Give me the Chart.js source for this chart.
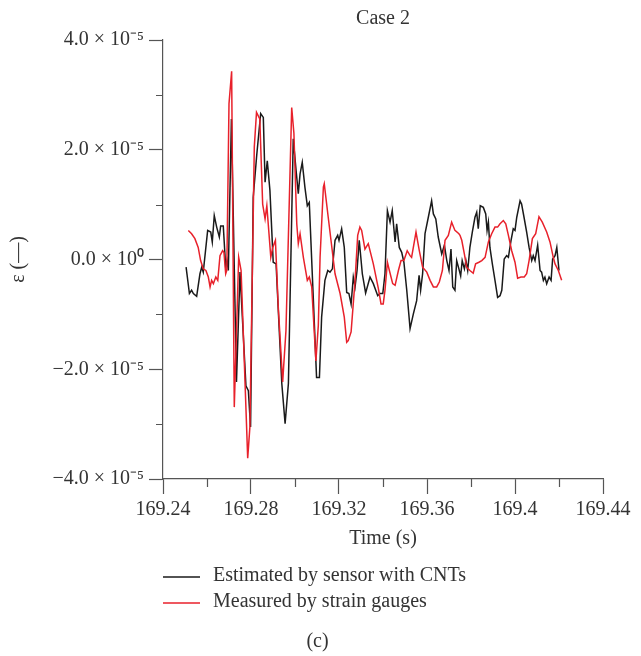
<!DOCTYPE html>
<html>
<head>
<meta charset="utf-8">
<script src="https://cdn.jsdelivr.net/npm/chart.js@4"></script>
<style>
  body { margin:0; background:#fff; }
  canvas { display:block; }
</style>
</head>
<body>
<canvas id="chart" width="641" height="656"></canvas>
<script>
// ----- data (strain in units of 1e-5) -----
const timeCnt = [
  169.2505,169.2520,169.2530,169.2538,169.2553,169.2568,169.2576,169.2583,169.2603,169.2617,
  169.2624,169.2633,169.2644,169.2656,169.2662,169.2674,169.2685,169.2691,169.2697,169.2711,
  169.2734,169.2750,169.2777,169.2788,169.2798,169.2810,169.2826,169.2844,169.2856,169.2864,
  169.2874,169.2886,169.2901,169.2914,169.2940,169.2955,169.2970,169.2992,169.3005,169.3015,
  169.3023,169.3033,169.3045,169.3056,169.3065,169.3083,169.3098,169.3111,169.3121,169.3136,
  169.3149,169.3159,169.3170,169.3182,169.3194,169.3200,169.3212,169.3224,169.3235,169.3245,
  169.3255,169.3265,169.3273,169.3282,169.3292,169.3306,169.3321,169.3341,169.3356,169.3376,
  169.3386,169.3399,169.3409,169.3420,169.3432,169.3442,169.3455,169.3462,169.3474,169.3485,
  169.3495,169.3508,169.3523,169.3538,169.3553,169.3564,169.3571,169.3580,169.3591,169.3606,
  169.3621,169.3629,169.3640,169.3651,169.3667,169.3679,169.3690,169.3700,169.3709,169.3717,
  169.3727,169.3735,169.3745,169.3753,169.3760,169.3770,169.3777,169.3785,169.3795,169.3806,
  169.3818,169.3826,169.3833,169.3842,169.3856,169.3867,169.3873,169.3879,169.3886,169.3897,
  169.3909,169.3921,169.3932,169.3940,169.3951,169.3962,169.3970,169.3982,169.3992,169.4000,
  169.4008,169.4023,169.4030,169.4041,169.4053,169.4064,169.4076,169.4083,169.4091,169.4103,
  169.4114,169.4121,169.4129,169.4136,169.4144,169.4155,169.4164,169.4171,169.4182,169.4190,
  169.4200
];
const strainCnt = [
  -0.14,-0.62,-0.56,-0.62,-0.67,-0.26,-0.14,-0.23,0.53,0.50,
  0.32,0.80,0.59,0.41,0.61,0.61,-0.14,-0.02,-0.20,2.56,
  -2.23,-0.23,-2.30,-2.39,-3.05,1.13,1.90,2.66,2.59,1.41,
  1.80,1.26,-0.05,-0.08,-2.26,-2.99,-2.26,2.20,1.62,1.20,
  1.56,1.77,1.32,0.98,1.04,-0.69,-2.15,-2.15,-1.05,-0.38,
  -0.20,-0.23,-0.17,0.35,0.44,0.35,0.56,0.22,-0.60,-0.62,
  -0.81,-0.32,-0.50,-0.20,0.35,-0.26,-0.61,-0.32,-0.44,-0.66,
  -0.62,-0.62,-0.26,0.89,0.68,0.89,0.32,0.65,0.22,0.13,
  -0.05,-0.56,-1.26,-0.99,-0.75,-0.29,-0.56,-0.26,0.47,0.77,
  1.07,0.83,0.74,0.41,0.10,0.26,-0.02,-0.20,0.19,-0.50,
  -0.56,-0.02,-0.17,-0.30,-0.02,-0.17,-0.02,-0.20,0.22,0.50,
  0.77,0.86,0.56,0.98,0.95,0.83,0.53,0.68,0.22,-0.08,
  -0.38,-0.69,-0.66,-0.56,0.01,0.07,0.04,0.35,0.56,0.53,
  0.77,1.07,1.01,0.77,0.50,0.22,-0.02,0.07,-0.02,0.26,
  -0.20,-0.23,-0.38,-0.32,-0.44,-0.32,-0.38,0.01,0.07,0.22,
  -0.20
];
const timeGauge = [
  169.2515,169.2530,169.2545,169.2560,169.2571,169.2583,169.2595,169.2606,169.2614,169.2621,
  169.2629,169.2640,169.2649,169.2659,169.2671,169.2677,169.2685,169.2690,169.2700,169.2712,
  169.2724,169.2744,169.2755,169.2785,169.2795,169.2815,169.2825,169.2840,169.2853,169.2864,
  169.2872,169.2890,169.2899,169.2911,169.2924,169.2944,169.2959,169.2985,169.2995,169.3008,
  169.3015,169.3023,169.3038,169.3056,169.3065,169.3076,169.3095,169.3106,169.3114,169.3129,
  169.3133,169.3151,169.3182,169.3205,169.3224,169.3235,169.3242,169.3255,169.3273,169.3285,
  169.3295,169.3303,169.3318,169.3333,169.3356,169.3379,169.3391,169.3401,169.3409,169.3420,
  169.3429,169.3444,169.3455,169.3470,169.3482,169.3495,169.3510,169.3523,169.3530,169.3550,
  169.3565,169.3580,169.3599,169.3614,169.3629,169.3644,169.3656,169.3670,169.3682,169.3697,
  169.3712,169.3727,169.3745,169.3750,169.3758,169.3770,169.3780,169.3795,169.3810,169.3821,
  169.3836,169.3849,169.3864,169.3879,169.3894,169.3909,169.3921,169.3932,169.3947,169.3958,
  169.3970,169.3985,169.4000,169.4012,169.4027,169.4042,169.4053,169.4064,169.4079,169.4094,
  169.4109,169.4124,169.4144,169.4159,169.4174,169.4182,169.4197,169.4212
];
const strainGauge = [
  0.53,0.47,0.38,0.22,-0.02,-0.17,-0.20,-0.32,-0.50,-0.38,
  -0.44,-0.32,-0.38,0.07,0.16,0.13,-0.26,-0.20,2.84,3.43,
  -2.69,0.04,-0.20,-3.62,-3.05,2.05,2.68,2.56,1.01,0.74,
  0.98,0.04,0.22,0.35,-0.87,-2.23,-1.29,2.77,2.30,0.65,
  0.29,0.47,0.04,-0.38,-0.32,-0.50,-1.85,-1.20,0.04,1.32,
  1.38,0.77,-0.26,-0.62,-1.05,-1.51,-1.48,-1.32,-0.38,0.44,
  0.59,0.53,0.19,0.29,-0.08,-0.53,-0.81,-0.81,-0.56,-0.05,
  -0.20,-0.44,-0.47,-0.20,-0.02,-0.02,0.16,0.07,0.04,0.50,
  0.16,-0.14,-0.23,-0.38,-0.50,-0.50,-0.41,-0.20,0.35,0.44,
  0.68,0.53,0.47,0.44,0.35,0.10,-0.14,-0.20,-0.25,-0.08,
  -0.05,-0.02,0.04,0.32,0.47,0.59,0.59,0.65,0.71,0.65,
  0.44,0.16,-0.05,-0.34,-0.32,-0.32,-0.26,-0.02,0.38,0.47,
  0.78,0.68,0.50,0.32,0.04,-0.08,-0.20,-0.38
];

const xMajor = [169.24, 169.28, 169.32, 169.36, 169.40, 169.44];
const xMinor = [169.26, 169.30, 169.34, 169.38, 169.42];
const yMajor = [-4, -2, 0, 2, 4];
const yMinor = [-3, -1, 1, 3];

const seriesLabels = ["Estimated by sensor with CNTs", "Measured by strain gauges"];

// ----- style -----
const FONT = '"Liberation Serif", "Times New Roman", serif';
const textColor = "#333";
const axisColor = "#555";

function sciLabel(v){
  if(v === 0) return "0.0 × 10⁰";
  const s = Math.abs(v).toFixed(1) + " × 10⁻⁵";
  return v < 0 ? "−" + s : s;
}

// minor ticks + legend + caption
const extras = {
  id: "extras",
  afterDraw(chart){
    const ctx = chart.ctx;
    const xs = chart.scales.x, ys = chart.scales.y;
    const area = chart.chartArea;
    ctx.save();
    ctx.strokeStyle = axisColor;
    ctx.lineWidth = 1.2;
    ctx.beginPath();
    xMinor.forEach(v=>{
      const px = Math.round(xs.getPixelForValue(v)) + 0.5;
      ctx.moveTo(px, area.bottom); ctx.lineTo(px, area.bottom + 8);
    });
    yMinor.forEach(v=>{
      const py = Math.round(ys.getPixelForValue(v)) + 0.5;
      ctx.moveTo(area.left, py); ctx.lineTo(area.left - 7, py);
    });
    ctx.stroke();

    // legend
    ctx.font = "20px " + FONT;
    ctx.fillStyle = textColor;
    ctx.textBaseline = "middle";
    chart.data.datasets.forEach((ds, i)=>{
      const y = 577 + i * 26;
      ctx.strokeStyle = ds.borderColor;
      ctx.lineWidth = 1.3;
      ctx.beginPath();
      ctx.moveTo(area.left, y); ctx.lineTo(area.left + 37, y);
      ctx.stroke();
      ctx.fillText(ds.label, area.left + 50, y - 1);
    });
    ctx.textAlign = "center";
    ctx.fillText("(c)", chart.width / 2 - 3, 642);
    ctx.restore();
  }
};

new Chart(document.getElementById("chart"), {
  type: "line",
  data: {
    datasets: [
      {
        label: seriesLabels[0],
        data: timeCnt.map((t,i)=>({x:t, y:strainCnt[i]})),
        borderColor: "#1a1a1a",
        borderWidth: 1.5,
        pointRadius: 0,
        tension: 0,
        order: 1
      },
      {
        label: seriesLabels[1],
        data: timeGauge.map((t,i)=>({x:t, y:strainGauge[i]})),
        borderColor: "#e8212b",
        borderWidth: 1.5,
        pointRadius: 0,
        tension: 0,
        order: 0
      }
    ]
  },
  options: {
    responsive: false,
    animation: false,
    layout: { padding: { left: 0, right: 38, top: 0, bottom: 97 } },
    plugins: {
      legend: { display: false },
      tooltip: { enabled: false },
      title: {
        display: true,
        fullSize: false,
        text: "Case 2",
        color: textColor,
        font: { family: FONT, size: 20, weight: "normal", lineHeight: 1.2 },
        padding: { top: 7, bottom: 9 }
      }
    },
    scales: {
      x: {
        type: "linear",
        min: 169.24, max: 169.44,
        afterBuildTicks: s => { s.ticks = xMajor.map(v=>({value:v})); },
        afterFit: s => { s.height = 80; },
        ticks: {
          autoSkip: false, maxRotation: 0, padding: 4,
          color: textColor,
          font: { family: FONT, size: 20 },
          callback: v => String(parseFloat(v.toFixed(2)))
        },
        grid: { drawOnChartArea: false, tickLength: 15, tickColor: axisColor, tickWidth: 1.2 },
        border: { color: axisColor, width: 1.2 },
        title: {
          display: true, text: "Time (s)", color: textColor,
          font: { family: FONT, size: 20, lineHeight: 1.2 },
          padding: { top: 0, bottom: 8 }
        }
      },
      y: {
        type: "linear",
        min: -4, max: 4,
        afterBuildTicks: s => { s.ticks = yMajor.map(v=>({value:v})); },
        afterFit: s => { s.width = 163; },
        ticks: {
          padding: 5,
          color: textColor,
          font: { family: FONT, size: 20 },
          callback: v => sciLabel(v)
        },
        grid: { drawOnChartArea: false, tickLength: 14, tickColor: axisColor, tickWidth: 1.2 },
        border: { color: axisColor, width: 1.2 },
        title: {
          display: true, text: "ε (—)", color: textColor,
          font: { family: FONT, size: 20, lineHeight: 1.2 },
          padding: { top: 7, bottom: 0 }
        }
      }
    }
  },
  plugins: [extras]
});
</script>
</body>
</html>
